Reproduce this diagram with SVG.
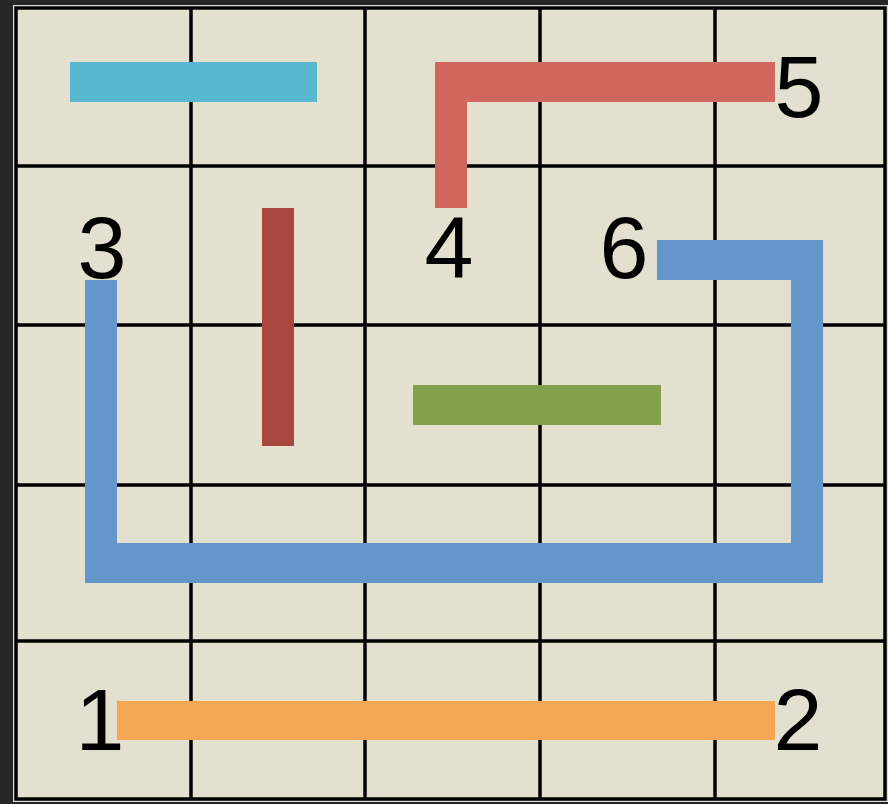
<svg xmlns="http://www.w3.org/2000/svg" width="888" height="804" viewBox="0 0 888 804">
<style>
.grid{stroke:#000;stroke-width:3.5;fill:none}
.lbl{font-family:"Liberation Sans",Arial,sans-serif;font-size:88px;fill:#000;text-anchor:middle}
</style>
<rect x="0" y="0" width="888" height="804" fill="#262626"/>
<g id="board">
<rect x="14" y="6" width="873" height="795" fill="#e3e0d0" stroke="#d8d8d8" stroke-width="2"/>
<rect x="16" y="8" width="869" height="791" class="grid"/>
<path class="grid" d="M191 8V799M365 8V799M540 8V799M715 8V799M16 166H885M16 325H885M16 485H885M16 641H885"/>
</g>
<g id="connectors">
<rect id="cyan" x="70" y="62" width="247" height="40" fill="#57b8d0"/>
<polygon id="salmon" points="435,62 775,62 775,102 467,102 467,208 435,208" fill="#d0665d"/>
<rect id="darkred" x="262" y="208" width="32" height="238" fill="#a8463f"/>
<rect id="green" x="413" y="385" width="248" height="40" fill="#83a14a"/>
<polygon id="blue" points="85,280 117,280 117,543 791,543 791,280 657,280 657,240 823,240 823,583 85,583" fill="#6397cc"/>
<rect id="orange" x="117" y="701" width="658" height="39" fill="#f4a653"/>
</g>
<g id="labels">
<text id="l5" class="lbl" x="799" y="117">5</text>
<text id="l3" class="lbl" x="102" y="278">3</text>
<text id="l4" class="lbl" x="449" y="278">4</text>
<text id="l6" class="lbl" x="624" y="278">6</text>
<text id="l1" class="lbl" x="100" y="750">1</text>
<text id="l2" class="lbl" x="798" y="750">2</text>
</g>
</svg>
